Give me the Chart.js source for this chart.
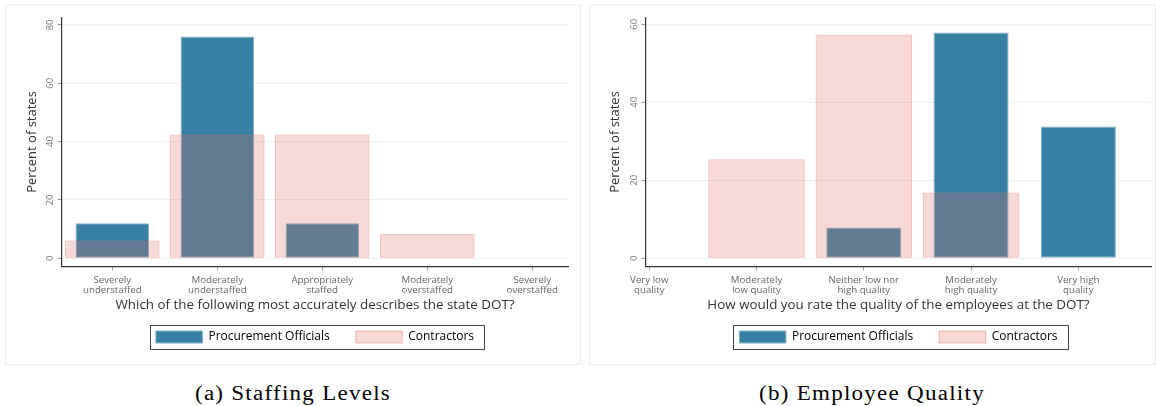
<!DOCTYPE html>
<html><head><meta charset="utf-8">
<script src="https://cdn.jsdelivr.net/npm/chart.js@4.4.1/dist/chart.umd.min.js"></script>
<style>
body{margin:0;background:#fff;width:1156px;height:406px;position:relative;overflow:hidden;}
.frame{position:absolute;top:4px;height:361px;box-sizing:border-box;border:1px solid #ececec;}
.frame canvas{display:block;}
.cap{position:absolute;top:382px;line-height:22px;font-family:'Liberation Serif',serif;font-weight:400;font-size:20px;letter-spacing:1.1px;color:#000;white-space:nowrap;transform:translateX(-50%) scaleX(1.15);}
</style></head><body>
<div class="frame" style="left:5px;width:576px"><canvas id="c1" width="574" height="359"></canvas></div>
<div class="frame" style="left:589px;width:567px"><canvas id="c2" width="565" height="359"></canvas></div>
<div class="cap" style="left:293px">(a) Staffing Levels</div>
<div class="cap" style="left:872px">(b) Employee Quality</div>
<script>
const seriesNames = ['Procurement Officials', 'Contractors'];
const yAxisTitle = 'Percent of states';

const staffCategories = [['Severely','understaffed'],['Moderately','understaffed'],['Appropriately','staffed'],['Moderately','overstaffed'],['Severely','overstaffed']];
const staffPositions = [1, 2, 3, 4, 5];
const staffProcurement = [12, 76, 12, 0, 0];
const staffContractors = [6.1, 42.4, 42.4, 8.4, 0];
const staffYTicks = [0, 20, 40, 60, 80];
const staffXTitle = 'Which of the following most accurately describes the state DOT?';

const qualityCategories = [['Very low','quality'],['Moderately','low quality'],['Neither low nor','high quality'],['Moderately','high quality'],['Very high','quality']];
const qualityPositions = [1, 2, 3, 4, 5];
const qualityProcurement = [0, 0, 7.9, 57.9, 33.8];
const qualityContractors = [0, 25.4, 57.3, 16.9, 0];
const qualityYTicks = [0, 20, 40, 60];
const qualityXTitle = 'How would you rate the quality of the employees at the DOT?';

const BLUE = '#3880a4';
const BLUE_EDGE = '#86b0ca';
const PINK = 'rgba(223,108,96,0.25)';
const PINK_EDGE = 'rgba(223,108,96,0.45)';
const FONT = "'Open Sans'";

const legendFrame = {
  id: 'legendFrame',
  afterDraw(chart) {
    const lg = chart.legend;
    if (!lg || !lg.legendHitBoxes || !lg.legendHitBoxes.length) return;
    const hb = lg.legendHitBoxes;
    const first = hb[0], last = hb[hb.length - 1];
    const x0 = Math.round(first.left - 6) + 0.5;
    const x1 = Math.round(last.left + last.width + 10) + 0.5;
    const y0 = Math.round(first.top - 6) + 0.5;
    const y1 = Math.round(first.top + first.height + 6) + 0.5;
    const ctx = chart.ctx;
    ctx.save();
    ctx.strokeStyle = '#444';
    ctx.lineWidth = 1;
    ctx.strokeRect(x0, y0, x1 - x0, y1 - y0);
    ctx.restore();
  }
};

function makeChart(id, cats, positions, proc, contr, yTicks, xTitle, cfg) {
  const pts = (vals) => positions.map((x, i) => ({x: x, y: vals[i]}));
  return new Chart(document.getElementById(id), {
    type: 'bar',
    data: {
      datasets: [
        {label: seriesNames[0], data: pts(proc), backgroundColor: BLUE, borderColor: BLUE_EDGE, borderWidth: 1,
         borderSkipped: false, grouped: false, categoryPercentage: 1, barPercentage: 0.7, order: 2},
        {label: seriesNames[1], data: pts(contr), backgroundColor: PINK, borderColor: PINK_EDGE, borderWidth: 1,
         borderSkipped: false, grouped: false, categoryPercentage: 1, barPercentage: 0.9, order: 1}
      ]
    },
    options: {
      responsive: false, animation: false, devicePixelRatio: 1,
      layout: {padding: {top: 12.3, left: 0, right: cfg.padRight, bottom: 11}},
      plugins: {
        tooltip: {enabled: false},
        legend: {
          position: 'bottom', fullSize: false, align: 'center',
          labels: {boxWidth: 46.5, boxHeight: 12, padding: 26, color: '#000',
                   font: {family: FONT, size: 12},
                   sort: (a, b) => a.datasetIndex - b.datasetIndex}
        }
      },
      scales: {
        x: {
          type: 'linear', min: cfg.xMin, max: cfg.xMax, offset: false,
          afterBuildTicks: s => { s.ticks = positions.map(v => ({value: v})); },
          ticks: {callback: v => cats[v - 1], color: '#666', font: {family: FONT, size: 9.7, lineHeight: 1.0},
                  padding: 5, maxRotation: 0, minRotation: 0, autoSkip: false},
          grid: {offset: false, drawOnChartArea: false, drawTicks: true, tickLength: 4, tickColor: '#aaaaaa'},
          border: {color: '#333', width: 1.2},
          title: {display: true, text: xTitle, color: '#333', font: {family: FONT, size: 13.4}, padding: {top: 0, bottom: -8}},
          afterFit: s => { s.height = 38.3; }
        },
        y: {
          min: cfg.yMin, max: cfg.yMax,
          afterBuildTicks: s => { s.ticks = yTicks.map(v => ({value: v})); },
          ticks: {minRotation: 90, maxRotation: 90, crossAlign: 'center', color: '#777',
                  font: {family: FONT, size: 9.5}, padding: 1.5},
          grid: {color: '#efefef', lineWidth: 1, tickLength: 4, tickColor: '#999'},
          border: {color: '#333', width: 1.2},
          title: {display: true, text: yAxisTitle, color: '#333', font: {family: FONT, size: 13}, padding: {top: cfg.yTitlePad, bottom: 0}},
          afterFit: s => { s.width = cfg.yWidth; }
        }
      }
    },
    plugins: [legendFrame]
  });
}

makeChart('c1', staffCategories, staffPositions, staffProcurement, staffContractors, staffYTicks, staffXTitle,
  {xMin: 0.518, xMax: 5.343, yMin: -2.88, yMax: 82.6, padRight: 11.7, yWidth: 55.7, yTitlePad: 18});
makeChart('c2', qualityCategories, qualityPositions, qualityProcurement, qualityContractors, qualityYTicks, qualityXTitle,
  {xMin: 0.963, xMax: 5.684, yMin: -2.15, yMax: 61.8, padRight: 3.3, yWidth: 55.3, yTitlePad: 17});
</script>
</body></html>
